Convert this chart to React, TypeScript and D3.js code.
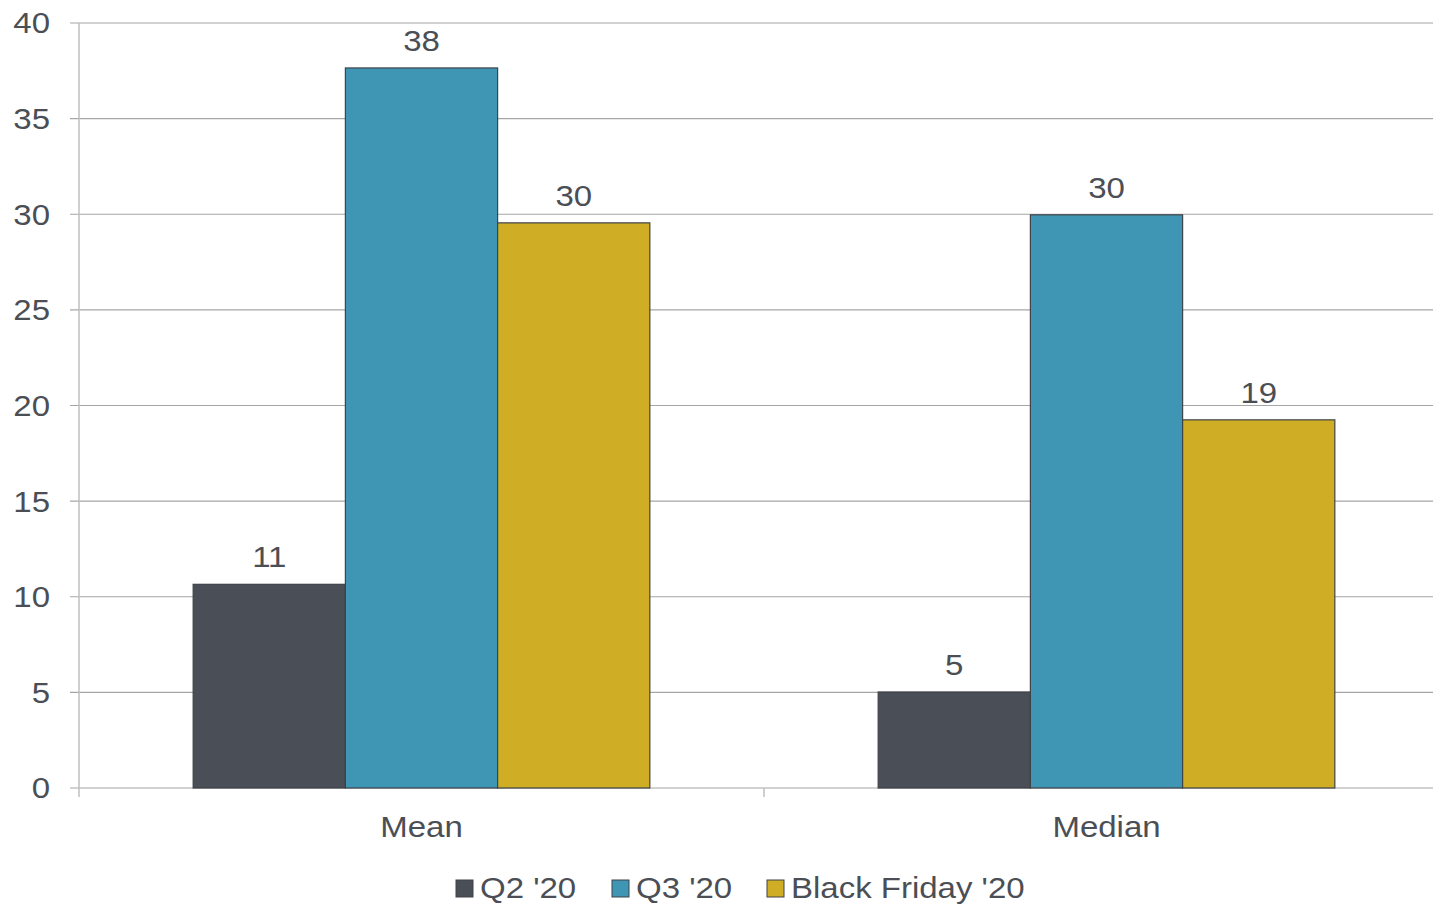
import React from "react";
import * as d3 from "d3";

const categories = ["Mean", "Median"];
const seriesNames = ["Q2 '20", "Q3 '20", "Black Friday '20"];
const q2Values = [10.65, 5.02];
const q3Values = [37.65, 29.97];
const bfValues = [29.55, 19.25];
const dataLabels = [["11", "5"], ["38", "30"], ["30", "19"]];
const yTicks = [0, 5, 10, 15, 20, 25, 30, 35, 40];
const colors = ["#4a4e56", "#3f96b4", "#cfae25"];

const W = 1433;
const H = 904;
const M = { left: 79, top: 23, bottom: 788 };
const FONT = "'Liberation Sans', Arial, sans-serif";
const TEXT = "#4b4f55";
const SX = 1.1;

function T(props: { x: number; y: number; anchor: "start" | "middle" | "end"; children: React.ReactNode; central?: boolean }) {
  return (
    <text
      transform={`translate(${props.x},${props.y}) scale(${SX},1)`}
      textAnchor={props.anchor}
      dominantBaseline={props.central ? "central" : undefined}
      fontSize={30}
      fill={TEXT}
    >
      {props.children}
    </text>
  );
}

export default function App() {
  const series = [q2Values, q3Values, bfValues];
  const y = d3.scaleLinear().domain([0, 40]).range([M.bottom, M.top]);
  const bandW = 685;
  const x = d3.scaleBand().domain(categories).range([M.left, M.left + bandW * categories.length]);
  const xi = d3.scaleBand().domain(seriesNames).range([0, x.bandwidth()]).paddingInner(0).paddingOuter(0.75);

  return (
    <svg width={W} height={H} style={{ position: "absolute", left: 0, top: 0, background: "#fff" }} fontFamily={FONT}>
      {yTicks.map((t) => (
        <g key={t}>
          <line x1={70} x2={W} y1={y(t)} y2={y(t)} stroke="#a6a6a6" strokeWidth={1.2} />
          <T x={50} y={y(t)} anchor="end" central>{t}</T>
        </g>
      ))}
      <line x1={M.left} x2={M.left} y1={M.top} y2={M.bottom + 9} stroke="#bfbfbf" strokeWidth={1.5} />
      <line x1={x(categories[1])!} x2={x(categories[1])!} y1={M.bottom} y2={M.bottom + 9} stroke="#bfbfbf" strokeWidth={1.5} />
      {series.map((vals, si) =>
        categories.map((c, ci) => {
          const bx = x(c)! + xi(seriesNames[si])!;
          const bw = xi.bandwidth();
          const top = y(vals[ci]);
          return (
            <g key={`${si}-${ci}`}>
              <rect x={bx} y={top} width={bw} height={y(0) - top} fill={colors[si]} stroke="#3f4348" strokeWidth={1.2} />
              <T x={bx + bw / 2} y={top - 17} anchor="middle">{dataLabels[si][ci]}</T>
            </g>
          );
        })
      )}
      {categories.map((c) => (
        <T key={c} x={x(c)! + x.bandwidth() / 2} y={827} anchor="middle" central>{c}</T>
      ))}
      {seriesNames.map((s, i) => {
        const lx = [456, 612, 767][i];
        return (
          <g key={s}>
            <rect x={lx} y={880} width={17} height={17} fill={colors[i]} stroke="#3f4348" strokeWidth={1} />
            <T x={lx + 24} y={888} anchor="start" central>{s}</T>
          </g>
        );
      })}
    </svg>
  );
}
